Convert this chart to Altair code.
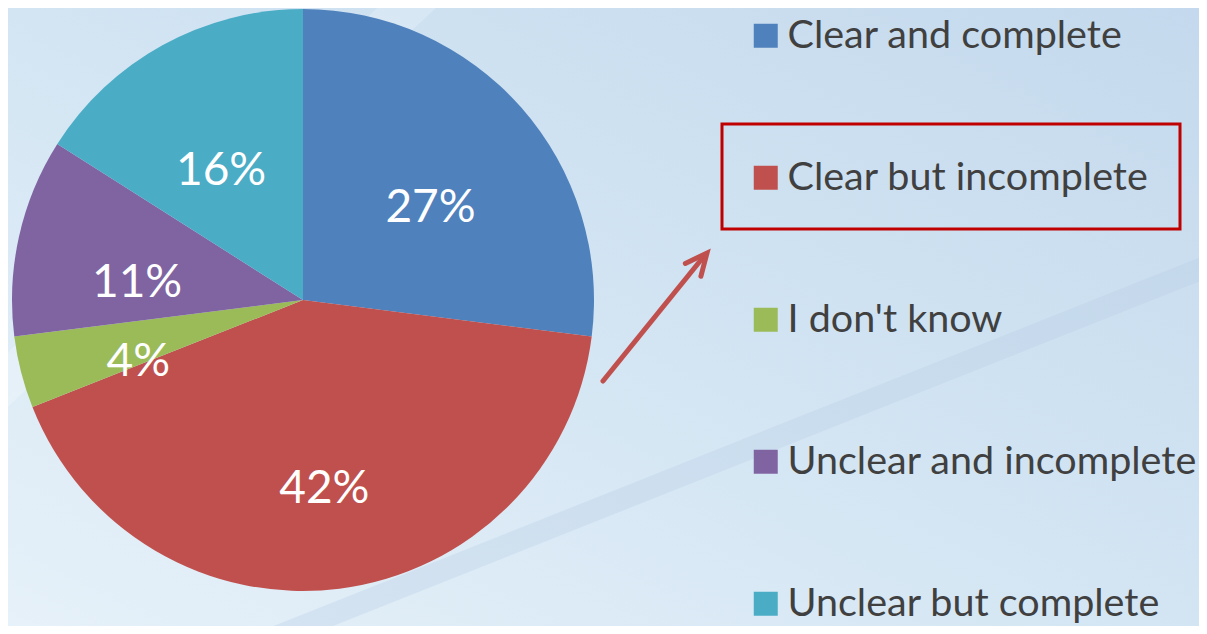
import altair as alt
import pandas as pd

# ---- data ----
categories = ["Clear and complete", "Clear but incomplete", "I don't know",
              "Unclear and incomplete", "Unclear but complete"]
shares = [27, 42, 4, 11, 16]
labels = ["27%", "42%", "4%", "11%", "16%"]
colors = ["#4F81BD", "#C0504D", "#9BBB59", "#8064A2", "#4BACC6"]

df = pd.DataFrame({"category": categories, "share": shares,
                   "label": labels, "order": list(range(len(categories)))})
one = pd.DataFrame({"a": [0]})

W, H = 1191, 618
CX, CY, R = 295, 292, 291
FONT = "Lato"

bg = alt.Chart(one).mark_rect(
    color=alt.LinearGradient(
        gradient="linear", x1=1, y1=0, x2=0, y2=1,
        stops=[alt.GradientStop(color="#c4d9ed", offset=0),
               alt.GradientStop(color="#d3e5f3", offset=0.5),
               alt.GradientStop(color="#e6f1f9", offset=1)])
).encode(x=alt.value(0), x2=alt.value(W), y=alt.value(0), y2=alt.value(H))

# faint decorative swooshes of the slide background
swoosh = alt.Chart(one).mark_rule(color="#b9cde5", strokeWidth=22, opacity=0.35).encode(
    x=alt.value(240), y=alt.value(640), x2=alt.value(1220), y2=alt.value(250))
swoosh2 = alt.Chart(one).mark_rule(color="#ffffff", strokeWidth=40, opacity=0.22).encode(
    x=alt.value(-20), y=alt.value(390), x2=alt.value(420), y2=alt.value(-20))

base = alt.Chart(df).encode(
    theta=alt.Theta("share:Q", stack=True),
    order=alt.Order("order:Q"),
)

pie = base.mark_arc(outerRadius=R).encode(
    x=alt.value(CX), y=alt.value(CY),
    color=alt.Color(
        "category:N", sort=categories,
        scale=alt.Scale(domain=categories, range=colors),
        legend=alt.Legend(
            title=None, orient="none", legendX=738, legendY=8,
            symbolType="square", symbolSize=576, symbolStrokeWidth=0,
            symbolOpacity=1, labelFontSize=39.5, labelFont=FONT,
            labelColor="#404040", labelOffset=2, rowPadding=101,
            labelLimit=700),
    ),
)

text = base.mark_text(radius=170, dy=20, fontSize=46, font=FONT, color="white").encode(
    x=alt.value(CX), y=alt.value(CY), text="label:N")

box = alt.Chart(one).mark_rect(fillOpacity=0, stroke="#C00000", strokeWidth=3).encode(
    x=alt.value(714), x2=alt.value(1172), y=alt.value(116), y2=alt.value(221))

shaft = alt.Chart(one).mark_rule(color="#C0504D", strokeWidth=5, strokeCap="round").encode(
    x=alt.value(595), y=alt.value(373), x2=alt.value(697), y2=alt.value(247))

head = alt.Chart(one).mark_point(
    shape="M-0.42,0.91L0,0L0.42,0.91", size=2304, filled=False,
    stroke="#C0504D", strokeWidth=5, strokeCap="round", strokeJoin="miter",
    angle=39.5, opacity=1,
).encode(x=alt.value(699), y=alt.value(245))

chart = alt.layer(bg, swoosh, swoosh2, pie, text, box, shaft, head).properties(
    width=W, height=H, padding=0, autosize="none"
).configure_view(strokeWidth=0)

chart.save("out.html", embed_options={"renderer": "svg", "actions": False})
